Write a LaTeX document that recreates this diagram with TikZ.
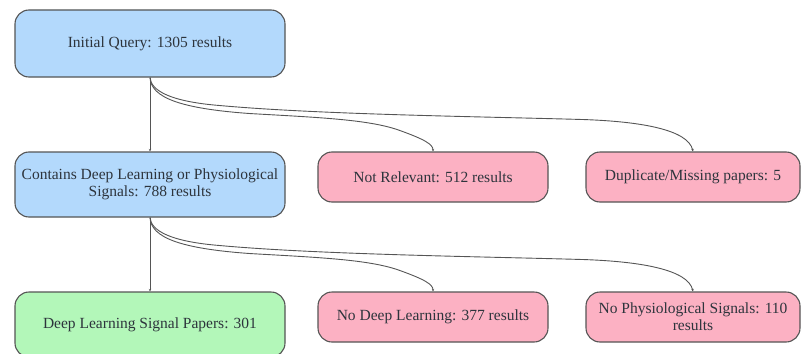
\documentclass[tikz,border=0pt]{standalone}
\usepackage{fontspec}
\setmainfont{Liberation Serif}
\usetikzlibrary{arrows.meta}
\definecolor{boxblue}{RGB}{179,217,252}
\definecolor{boxpink}{RGB}{252,177,195}
\definecolor{boxgreen}{RGB}{179,247,185}
\definecolor{edgegray}{RGB}{85,85,85}
\definecolor{textgray}{RGB}{45,52,60}
\begin{document}
\begin{tikzpicture}[x=1pt,y=-1pt,
  stagebox/.style={draw=edgegray, line width=1.1pt, rounded corners=14pt,
    align=center, font=\fontsize{15.5}{17}\selectfont, text=textgray,
    inner sep=2pt},
  wide/.style={stagebox, minimum width=270pt},
  narrow/.style={stagebox, minimum width=230pt, minimum height=50pt},
  link/.style={draw=edgegray, line width=0.9pt,
    -{Stealth[length=2.5pt,width=2.5pt]}}]
\useasboundingbox (0,0) rectangle (802,353);

% top row
\node[wide, fill=boxblue, minimum height=67pt] (init) at (150,43.5)
  {Initial Query: 1305 results};

% middle row
\node[wide, fill=boxblue, minimum height=65pt] (contains) at (150,184.5)
  {Contains Deep Learning or Physiological\\Signals: 788 results};
\node[narrow, fill=boxpink] (notrel) at (433,177) {Not Relevant: 512 results};
\node[narrow, fill=boxpink, minimum width=214pt] (dup) at (693,177)
  {Duplicate/Missing papers: 5};

% bottom row
\node[wide, fill=boxgreen, minimum height=65pt] (final) at (150,324.5)
  {Deep Learning Signal Papers: 301};
\node[narrow, fill=boxpink] (nodl) at (433,317) {No Deep Learning: 377 results};
\node[narrow, fill=boxpink, minimum width=214pt] (nophys) at (693,317)
  {No Physiological Signals: 110\\results};

% connectors from the initial query
\draw[link] (init.south) -- (contains.north);
\draw[link] (init.south) .. controls +(1,20) and +(-70,-5) .. ++(100,36)
  .. controls +(70,4) and +(-30,-11) .. ++(150,17)
  .. controls +(25,9) and +(0,-7) .. (notrel.north);
\draw[link] (init.south) .. controls +(1,13) and +(-50,-4) .. ++(70,28)
  .. controls +(100,9) and +(-104,-3) .. ++(364,14)
  .. controls +(56,2) and +(-5,-22) .. (dup.north);

% connectors from the filtered set
\draw[link] (contains.south) -- (final.north);
\draw[link] (contains.south) .. controls +(1,20) and +(-70,-5) .. ++(100,36)
  .. controls +(70,4) and +(-30,-11) .. ++(150,17)
  .. controls +(25,9) and +(0,-7) .. (nodl.north);
\draw[link] (contains.south) .. controls +(1,13) and +(-50,-4) .. ++(70,28)
  .. controls +(100,9) and +(-104,-3) .. ++(364,14)
  .. controls +(56,2) and +(-5,-22) .. (nophys.north);
\end{tikzpicture}
\end{document}
